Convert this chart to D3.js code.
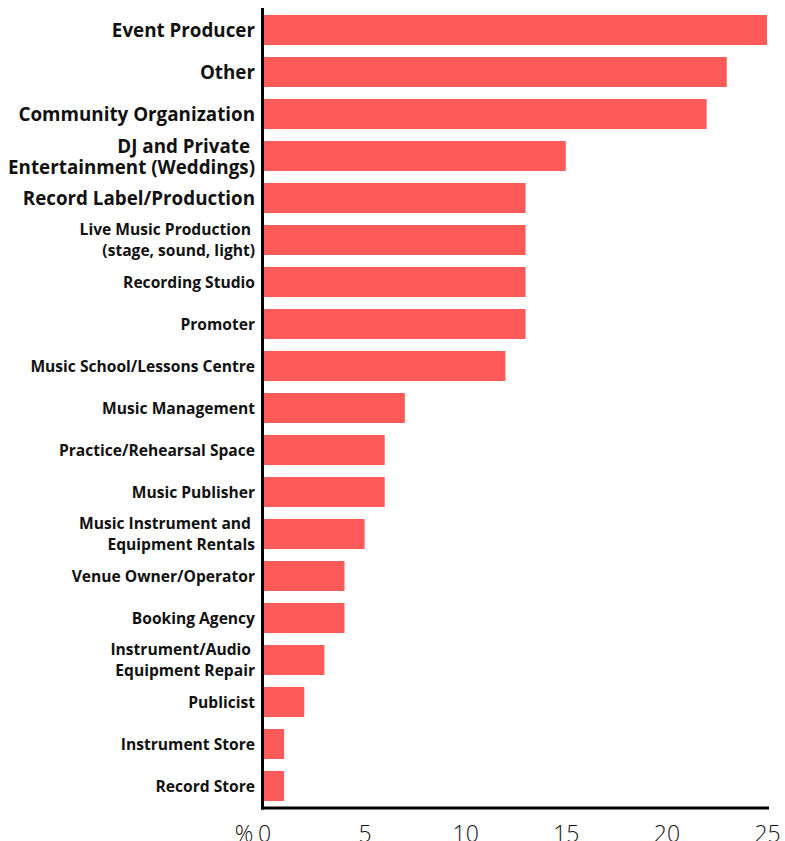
<!DOCTYPE html>
<html>
<head>
<meta charset="utf-8">
<script src="https://cdn.jsdelivr.net/npm/d3@7/dist/d3.min.js"></script>
<style>
  html, body { margin: 0; padding: 0; background: #fff; }
  svg text { font-family: "Open Sans", "Lato", sans-serif; }
</style>
</head>
<body>
<svg id="chart" width="785" height="841"></svg>
<script>
// Business types (label lines) and share of respondents, %
const categories = [
  ["Event Producer"],
  ["Other"],
  ["Community Organization"],
  ["DJ and Private ", "Entertainment (Weddings)"],
  ["Record Label/Production"],
  ["Live Music Production ", "(stage, sound, light)"],
  ["Recording Studio"],
  ["Promoter"],
  ["Music School/Lessons Centre"],
  ["Music Management"],
  ["Practice/Rehearsal Space"],
  ["Music Publisher"],
  ["Music Instrument and ", "Equipment Rentals"],
  ["Venue Owner/Operator"],
  ["Booking Agency"],
  ["Instrument/Audio ", "Equipment Repair"],
  ["Publicist"],
  ["Instrument Store"],
  ["Record Store"]
];
const values = [25, 23, 22, 15, 13, 13, 13, 13, 12, 7, 6, 6, 5, 4, 4, 3, 2, 1, 1];
const xTicks = [0, 5, 10, 15, 20, 25];
const unitLabel = "%";

const svg = d3.select("#chart");
const margin = { left: 264, right: 18, top: 15 };
const width = 785;

const ids = categories.map((c, i) => i);
const y = d3.scaleBand()
  .domain(ids)
  .range([margin.top - 6, margin.top - 6 + 42 * ids.length])
  .paddingInner(0.286)
  .paddingOuter(0.143);

const x = d3.scaleLinear()
  .domain([0, 25])
  .range([margin.left, width - margin.right]);

const axisY = 808;

// bars
svg.append("g")
  .selectAll("rect")
  .data(values)
  .join("rect")
  .attr("x", x(0))
  .attr("y", (d, i) => y(i))
  .attr("width", d => x(d) - x(0))
  .attr("height", y.bandwidth())
  .attr("fill", "#ff5a5a");

// category labels: the first few are set larger
const largeCount = 5;
const labels = svg.append("g");
categories.forEach((lines, i) => {
  const big = i < largeCount;
  const fs = big ? 18.8 : 15.6;
  const lh = 21;
  const cy = y(i) + y.bandwidth() / 2;
  const t = labels.append("text")
    .attr("text-anchor", "end")
    .attr("font-weight", 700)
    .attr("font-size", fs)
    .attr("fill", "#111")
    .style("white-space", "pre");
  lines.forEach((ln, j) => {
    t.append("tspan")
      .attr("x", 255)
      .attr("y", cy + (j - (lines.length - 1) / 2) * lh)
      .attr("dy", "0.38em")
      .text(ln);
  });
});

// y axis line
svg.append("line")
  .attr("x1", 262.5).attr("x2", 262.5)
  .attr("y1", 8).attr("y2", axisY + 1.5)
  .attr("stroke", "#000").attr("stroke-width", 3);

// x axis
const xAxis = d3.axisBottom(x).tickValues(xTicks).tickSize(0).tickPadding(18);
const gx = svg.append("g")
  .attr("transform", `translate(0,${axisY})`)
  .call(xAxis);
gx.select(".domain").remove();
gx.append("line")
  .attr("x1", 261).attr("x2", x(25) + 2)
  .attr("y1", 0).attr("y2", 0)
  .attr("stroke", "#000").attr("stroke-width", 3);
gx.selectAll(".tick text")
  .attr("font-size", 23)
  .attr("font-weight", 300)
  .attr("font-family", "Open Sans, sans-serif")
  .attr("fill", "#111");

svg.append("text")
  .attr("x", 244).attr("y", axisY + 18)
  .attr("dy", "0.71em")
  .attr("text-anchor", "middle")
  .attr("font-size", 23)
  .attr("font-weight", 300)
  .attr("fill", "#111")
  .text(unitLabel);
</script>
</body>
</html>
